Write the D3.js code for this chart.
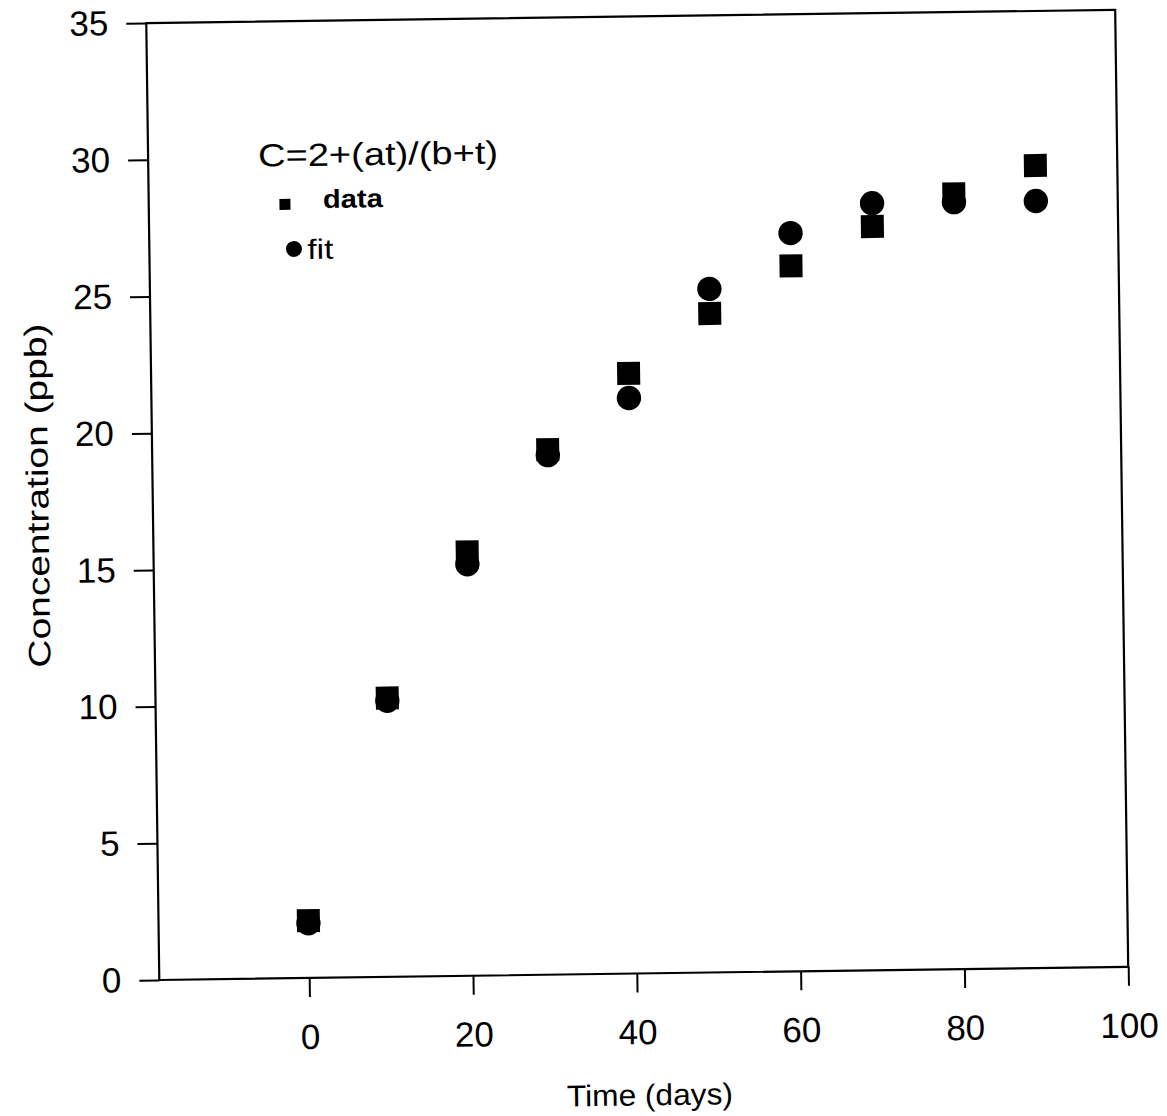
<!DOCTYPE html>
<html>
<head>
<meta charset="utf-8">
<script src="https://cdn.jsdelivr.net/npm/d3@7"></script>
<style>
  html, body { margin: 0; padding: 0; background: #fff; }
  svg { display: block; }
  text { font-family: "Liberation Sans", Arial, Helvetica, sans-serif; fill: #000; }
</style>
</head>
<body>
<svg id="chart" width="1167" height="1116"></svg>
<script>
// Sampling times (days)
const days = [0, 10, 20, 30, 40, 50, 60, 70, 80, 90];
// Measured concentration (ppb)
const dataValues = [2.1, 10.2, 15.5, 19.2, 21.95, 24.1, 25.8, 27.2, 28.35, 29.35];
// Fitted model C = 2 + a t / (b + t) (ppb)
const fitValues = [2.0, 10.1, 15.05, 19.0, 21.05, 25.0, 27.0, 28.05, 28.05, 28.05];
// Axis ticks
const xTicks = [0, 20, 40, 60, 80, 100];
const yTicks = [0, 5, 10, 15, 20, 25, 30, 35];

const W = 969, H = 957;
const svg = d3.select("#chart");

// The whole figure sits slightly tilted on the page
const g = svg.append("g")
  .attr("transform", "translate(159.3,980) rotate(-0.78) translate(0," + (-H) + ")");

const x = d3.scaleLinear().domain([-18.3, 100]).range([0, W]);
const y = d3.scaleLinear().domain([0, 35]).range([H, 0]);

// Left axis
const yAxis = g.append("g")
  .call(d3.axisLeft(y).tickValues(yTicks).tickSize(20).tickPadding(18));
// Bottom axis
const xAxis = g.append("g")
  .attr("transform", "translate(0," + H + ")")
  .call(d3.axisBottom(x).tickValues(xTicks).tickSize(19).tickPadding(27));

[xAxis, yAxis].forEach(a => {
  a.select(".domain").remove();
  a.selectAll("line").attr("stroke", "#000").attr("stroke-width", 2);
  a.selectAll("text")
    .style("font-family", '"Liberation Sans", Arial, Helvetica, sans-serif')
    .style("font-size", "35px")
    .attr("fill", "#000");
});

// Plot frame
g.append("rect")
  .attr("x", 0).attr("y", 0).attr("width", W).attr("height", H)
  .attr("fill", "none").attr("stroke", "#000").attr("stroke-width", 2.2);

// Fitted values: circles
g.append("g").selectAll("circle")
  .data(days.map((d, i) => ({ t: d, c: fitValues[i] })))
  .join("circle")
  .attr("cx", d => x(d.t))
  .attr("cy", d => y(d.c))
  .attr("r", 12.2)
  .attr("fill", "#000");

// Measured values: squares
const s = 23;
g.append("g").selectAll("rect")
  .data(days.map((d, i) => ({ t: d, c: dataValues[i] })))
  .join("rect")
  .attr("x", d => x(d.t) - s / 2)
  .attr("y", d => y(d.c) - s / 2)
  .attr("width", s)
  .attr("height", s)
  .attr("fill", "#000");

// Legend
const lg = g.append("g");
lg.append("text")
  .attr("x", 110).attr("y", 145)
  .style("font-size", "32px")
  .attr("textLength", 240).attr("lengthAdjust", "spacingAndGlyphs")
  .text("C=2+(at)/(b+t)");
lg.append("rect")
  .attr("x", 136.2 - 5.5).attr("y", 183.2 - 5.5)
  .attr("width", 11).attr("height", 11).attr("fill", "#000");
lg.append("text")
  .attr("x", 174.2).attr("y", 187.2)
  .style("font-size", "26px").style("font-weight", "bold")
  .attr("textLength", 60).attr("lengthAdjust", "spacingAndGlyphs")
  .text("data");
lg.append("circle")
  .attr("cx", 144.6).attr("cy", 227.8).attr("r", 8).attr("fill", "#000");
lg.append("text")
  .attr("x", 158).attr("y", 238)
  .style("font-size", "28px")
  .attr("textLength", 26).attr("lengthAdjust", "spacingAndGlyphs")
  .text("fit");

// Axis titles
g.append("text")
  .attr("x", 489).attr("y", H + 132)
  .attr("text-anchor", "middle")
  .style("font-size", "30px")
  .attr("textLength", 166).attr("lengthAdjust", "spacingAndGlyphs")
  .text("Time (days)");
g.append("text")
  .attr("transform", "translate(-104.5,471) rotate(-90)")
  .attr("text-anchor", "middle")
  .style("font-size", "31px")
  .attr("textLength", 344).attr("lengthAdjust", "spacingAndGlyphs")
  .text("Concentration (ppb)");
</script>
</body>
</html>
